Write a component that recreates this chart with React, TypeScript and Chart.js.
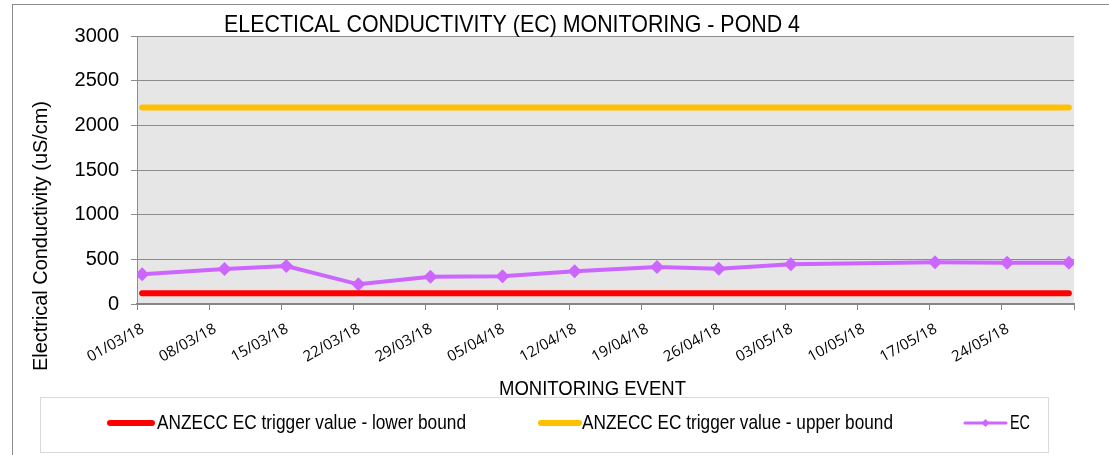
import React, { useEffect, useRef } from 'react';
import { Chart, registerables } from 'chart.js';

Chart.register(...registerables);

// ---- data ----
const axisStartDate = '01/03/18';
const tickLabels = [
  '01/03/18', '08/03/18', '15/03/18', '22/03/18', '29/03/18', '05/04/18', '12/04/18',
  '19/04/18', '26/04/18', '03/05/18', '10/05/18', '17/05/18', '24/05/18', '',
];
const eventDates = [
  '01/03/18', '09/03/18', '15/03/18', '22/03/18', '29/03/18', '05/04/18', '12/04/18',
  '20/04/18', '26/04/18', '03/05/18', '17/05/18', '24/05/18', '30/05/18',
];
const ecValues = [332, 392, 425, 220, 306, 310, 366, 414, 395, 444, 467, 463, 463];
const lowerBoundValues = [120, 120, 120, 120, 120, 120, 120, 120, 120, 120, 120, 120, 120];
const upperBoundValues = [2200, 2200, 2200, 2200, 2200, 2200, 2200, 2200, 2200, 2200, 2200, 2200, 2200];
const seriesLabels = ['ANZECC EC trigger value - lower bound', 'ANZECC EC trigger value - upper bound', 'EC'];
const chartTitle = 'ELECTICAL CONDUCTIVITY (EC) MONITORING - POND 4';
const yAxisTitle = 'Electrical Conductivity (uS/cm)';
const xAxisTitle = 'MONITORING EVENT';

// ---- helpers ----
function parseDate(s: string): number {
  const [d, m, y] = s.split('/').map(Number);
  return Date.UTC(2000 + y, m - 1, d);
}
const DAY = 86400000;
const start = parseDate(axisStartDate);
const dayPos = (s: string) => (parseDate(s) - start) / DAY + 0.5;
const toPoints = (vals: number[]) => vals.map((v, i) => ({ x: dayPos(eventDates[i]), y: v }));

const COLORS = { lower: '#ff0000', upper: '#ffc000', ec: '#cc66ff' };
const FAMILY = '"Liberation Sans Narrow", "Liberation Sans", Arial, sans-serif';

// draws text at a given font size, condensed horizontally to a target width (Arial Narrow look)
function fillTextFit(
  ctx: CanvasRenderingContext2D, text: string, x: number, y: number,
  size: number, targetW: number, align: 'left' | 'center' = 'left', rotate = 0,
) {
  ctx.save();
  ctx.font = `${size}px ${FAMILY}`;
  const w = ctx.measureText(text).width;
  const sx = targetW / w;
  ctx.translate(x, y);
  if (rotate) ctx.rotate(rotate);
  ctx.scale(sx, 1);
  ctx.textAlign = align;
  ctx.textBaseline = 'middle';
  ctx.fillText(text, 0, 0);
  ctx.restore();
}

const decorPlugin = {
  id: 'decor',
  beforeDraw(chart: any) {
    const { ctx, chartArea: a, width, height } = chart;
    ctx.save();
    ctx.fillStyle = '#ffffff';
    ctx.fillRect(0, 0, width, height);
    ctx.fillStyle = '#e6e6e6';
    ctx.fillRect(a.left, a.top, a.right - a.left, a.bottom - a.top);
    ctx.restore();
  },
  afterDraw(chart: any) {
    const { ctx } = chart;
    ctx.save();
    ctx.strokeStyle = '#8c8c8c';
    ctx.lineWidth = 1;
    ctx.strokeRect(12.5, 4.5, 1200, 600);

    ctx.fillStyle = '#000000';
    fillTextFit(ctx, chartTitle, 224, 25, 24, 576, 'left');
    fillTextFit(ctx, yAxisTitle, 41, 236, 21, 270, 'center', -Math.PI / 2);
    fillTextFit(ctx, xAxisTitle, 592.5, 389, 21, 187, 'center');

    // legend box
    ctx.fillStyle = '#ffffff';
    ctx.fillRect(40, 397, 1008, 55);
    ctx.strokeStyle = '#d9d9d9';
    ctx.strokeRect(40.5, 397.5, 1008, 55);

    const ly = 423;
    const items = [
      { x0: 110, x1: 152, tx: 157, tw: 309, color: COLORS.lower, w: 6, marker: false, label: seriesLabels[0] },
      { x0: 541, x1: 579, tx: 582, tw: 311, color: COLORS.upper, w: 6, marker: false, label: seriesLabels[1] },
      { x0: 965, x1: 1006, tx: 1010, tw: 20, color: COLORS.ec, w: 3, marker: true, label: seriesLabels[2] },
    ];
    for (const it of items) {
      ctx.strokeStyle = it.color;
      ctx.lineWidth = it.w;
      ctx.lineCap = 'round';
      ctx.beginPath();
      ctx.moveTo(it.x0, ly);
      ctx.lineTo(it.x1, ly);
      ctx.stroke();
      if (it.marker) {
        const cx = (it.x0 + it.x1) / 2;
        ctx.fillStyle = it.color;
        ctx.beginPath();
        ctx.moveTo(cx, ly - 4);
        ctx.lineTo(cx + 4, ly);
        ctx.lineTo(cx, ly + 4);
        ctx.lineTo(cx - 4, ly);
        ctx.closePath();
        ctx.fill();
      }
      ctx.fillStyle = '#000000';
      fillTextFit(ctx, it.label, it.tx, ly, 21, it.tw, 'left');
    }
    ctx.restore();
  },
};

export default function App() {
  const ref = useRef<HTMLCanvasElement>(null);
  useEffect(() => {
    if (!ref.current) return;
    const chart = new Chart(ref.current, {
      type: 'line',
      data: {
        datasets: [
          {
            label: seriesLabels[0],
            data: toPoints(lowerBoundValues),
            borderColor: COLORS.lower,
            backgroundColor: COLORS.lower,
            borderWidth: 6,
            borderCapStyle: 'round',
            pointRadius: 0,
          },
          {
            label: seriesLabels[1],
            data: toPoints(upperBoundValues),
            borderColor: COLORS.upper,
            backgroundColor: COLORS.upper,
            borderWidth: 6,
            borderCapStyle: 'round',
            pointRadius: 0,
          },
          {
            label: seriesLabels[2],
            data: toPoints(ecValues),
            borderColor: COLORS.ec,
            backgroundColor: COLORS.ec,
            borderWidth: 4,
            pointStyle: 'rectRot',
            pointRadius: 7,
            pointBorderWidth: 0,
          },
        ],
      },
      options: {
        animation: false,
        responsive: false,
        layout: { padding: { left: 37, right: 35, top: 36, bottom: 91 } },
        plugins: { legend: { display: false }, title: { display: false }, tooltip: { enabled: false } },
        scales: {
          x: {
            type: 'linear',
            min: 0,
            max: 91,
            afterFit: (s: any) => { s.height = 60; },
            afterBuildTicks: (s: any) => {
              s.ticks = tickLabels.map((_, i) => ({ value: i * 7 }));
            },
            ticks: {
              autoSkip: false,
              minRotation: 29,
              maxRotation: 29,
              padding: 10,
              labelOffset: 6,
              color: '#000000',
              font: { family: '"Open Sans", sans-serif', size: 15 },
              callback: (v: any) => tickLabels[Math.round(Number(v) / 7)] ?? '',
            },
            grid: { drawOnChartArea: false, drawTicks: true, tickLength: 6, color: '#868686', lineWidth: 1 },
            border: { display: true, color: '#868686', width: 2 },
          },
          y: {
            min: 0,
            max: 3000,
            afterFit: (s: any) => { s.width = 100; },
            ticks: {
              stepSize: 500,
              padding: 12,
              color: '#000000',
              font: { family: '"Liberation Sans", Arial, sans-serif', size: 20 },
              callback: (v: any) => String(v),
            },
            grid: { color: '#8c8c8c', tickLength: 6, lineWidth: 1 },
            border: { display: true, color: '#8c8c8c', width: 1 },
          },
        },
      },
      plugins: [decorPlugin],
    } as any);
    return () => chart.destroy();
  }, []);
  return (
    <div style={{ position: 'fixed', left: 0, top: 0, width: 1109, height: 455 }}>
      <canvas ref={ref} width={1109} height={455} style={{ display: 'block' }} />
    </div>
  );
}
